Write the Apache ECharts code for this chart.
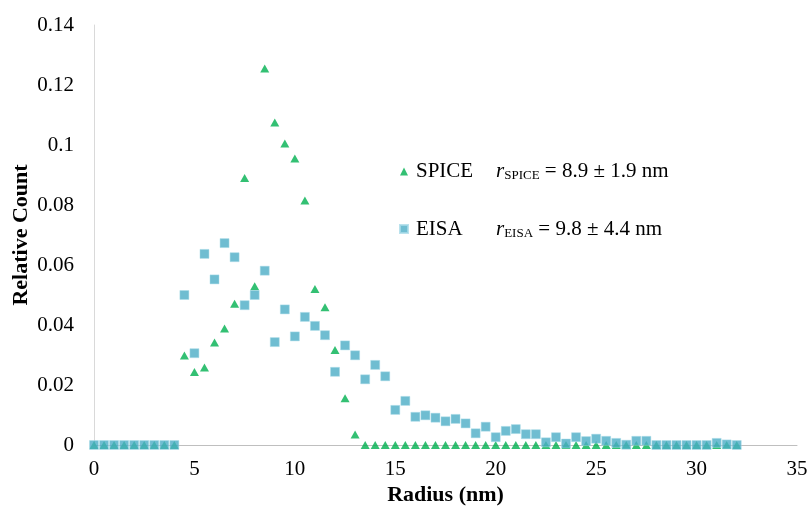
<!DOCTYPE html>
<html>
<head>
<meta charset="utf-8">
<script src="https://cdn.jsdelivr.net/npm/echarts@6/dist/echarts.min.js"></script>
<style>
  html, body { margin: 0; padding: 0; background: #fff; }
  #chart { width: 809px; height: 510px; }
</style>
</head>
<body>
<div id="chart"></div>
<script>
// radius bins (nm)
const radius = [
  0, 0.5, 1, 1.5, 2, 2.5, 3, 3.5, 4, 4.5, 5, 5.5, 6, 6.5, 7, 7.5, 8, 8.5, 9, 9.5,
  10, 10.5, 11, 11.5, 12, 12.5, 13, 13.5, 14, 14.5, 15, 15.5, 16, 16.5, 17, 17.5,
  18, 18.5, 19, 19.5, 20, 20.5, 21, 21.5, 22, 22.5, 23, 23.5, 24, 24.5, 25, 25.5,
  26, 26.5, 27, 27.5, 28, 28.5, 29, 29.5, 30, 30.5, 31, 31.5, 32
]

const spice = [
  0, 0, 0, 0, 0, 0, 0, 0, 0,
  0.0298, 0.0243, 0.0258, 0.0342, 0.0388, 0.0471, 0.0890, 0.0529, 0.1255, 0.1075,
  0.1005, 0.0955, 0.0815, 0.0520, 0.0459, 0.0317, 0.0156, 0.0035,
  0, 0, 0, 0, 0, 0, 0, 0, 0, 0, 0, 0, 0, 0, 0, 0, 0, 0, 0,
  0, 0, 0, 0, 0, 0, 0, 0, 0, 0, 0, 0, 0, 0, 0, 0, 0, 0, 0
]

const eisa = [
  0, 0, 0, 0, 0, 0, 0, 0, 0,
  0.0500, 0.0306, 0.0637, 0.0552, 0.0673, 0.0626, 0.0466, 0.0500, 0.0581, 0.0343,
  0.0452, 0.0362, 0.0427, 0.0397, 0.0366, 0.0244, 0.0332, 0.0299, 0.0219, 0.0267,
  0.0229, 0.0117, 0.0147, 0.0094, 0.0099, 0.0091, 0.0079, 0.0087, 0.0072, 0.0039,
  0.0061, 0.0026, 0.0047, 0.0053, 0.0036, 0.0036, 0.0009, 0.0026, 0.0005, 0.0026,
  0.0013, 0.0021, 0.0014, 0.0007, 0.0001, 0.0014, 0.0014,
  0, 0, 0, 0, 0, 0, 0.0007, 0.0002, 0
]

// mean radius ± sd shown in the legend
const legendStats = {
  SPICE: ' = 8.9 ± 1.9 nm',
  EISA: ' = 9.8 ± 4.4 nm'
}

const serif = 'Liberation Serif'

function pairs(ys) {
  return radius.map((x, i) => [x, ys[i]])
}

const chart = echarts.init(document.getElementById('chart'))
chart.setOption({
  backgroundColor: '#fff',
  animation: false,
  textStyle: { fontFamily: serif },
  grid: { left: 94, right: 12, top: 25, bottom: 65, outerBoundsMode: 'none' },
  legend: {
    orient: 'vertical',
    left: 394,
    top: 156,
    itemGap: 36,
    itemWidth: 8,
    itemHeight: 8,
    data: [
      { name: 'SPICE', icon: 'triangle' },
      { name: 'EISA', icon: 'rect' }
    ],
    formatter: (name) => '{n|' + name + '}{i|r}{s|' + name + '}{t|' + legendStats[name] + '}',
    textStyle: {
      fontFamily: serif,
      color: '#000',
      rich: {
        n: { fontFamily: serif, fontSize: 21, color: '#000', width: 80, padding: [0, 0, 0, 3] },
        i: { fontFamily: serif, fontSize: 21, fontStyle: 'italic', color: '#000' },
        s: { fontFamily: serif, fontSize: 13, color: '#000', verticalAlign: 'bottom', padding: [9, 0, 0, 0] },
        t: { fontFamily: serif, fontSize: 21, color: '#000' }
      }
    }
  },
  xAxis: {
    type: 'value',
    min: 0,
    max: 35,
    interval: 5,
    name: 'Radius (nm)',
    nameLocation: 'middle',
    nameGap: 39,
    nameMoveOverlap: false,
    nameTextStyle: { fontFamily: serif, fontSize: 22, fontWeight: 'bold', color: '#000' },
    axisLine: { show: true, onZero: false, lineStyle: { color: '#bfbfbf', width: 1 } },
    axisTick: { show: false },
    splitLine: { show: false },
    axisLabel: { fontFamily: serif, fontSize: 21, color: '#000', margin: 14 }
  },
  yAxis: {
    type: 'value',
    min: 0,
    max: 0.14,
    interval: 0.02,
    name: 'Relative Count',
    nameLocation: 'middle',
    nameGap: 62,
    nameMoveOverlap: false,
    nameTextStyle: { fontFamily: serif, fontSize: 22, fontWeight: 'bold', color: '#000' },
    axisLine: { show: true, lineStyle: { color: '#d9d9d9', width: 1 } },
    axisTick: { show: false },
    splitLine: { show: false },
    axisLabel: { fontFamily: serif, fontSize: 21, color: '#000', margin: 20 }
  },
  series: [
    {
      name: 'SPICE',
      type: 'scatter',
      symbol: 'triangle',
      symbolSize: [9, 8],
      clip: false,
      itemStyle: { color: '#00b050' },
      data: pairs(spice)
    },
    {
      name: 'EISA',
      type: 'scatter',
      symbol: 'rect',
      symbolSize: 9,
      clip: false,
      itemStyle: { color: '#4bacc6', borderColor: '#a9dbe8', borderWidth: 0.6 },
      data: pairs(eisa)
    }
  ]
})
</script>
</body>
</html>
